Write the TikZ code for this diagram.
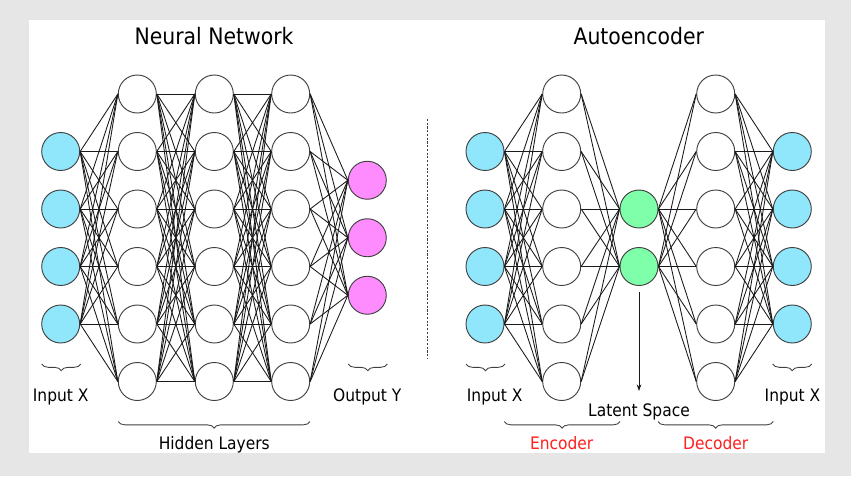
\documentclass[tikz,border=0pt]{standalone}
\usepackage{fontspec}
\setmainfont{DejaVu Sans Condensed}
\usetikzlibrary{decorations.pathreplacing,arrows.meta}
\definecolor{bggray}{HTML}{E6E6E6}
\definecolor{incolor}{HTML}{90E6FB}
\definecolor{outcolor}{HTML}{FF8CFF}
\definecolor{latcolor}{HTML}{80FFAA}
\definecolor{nodeborder}{HTML}{404040}
\definecolor{edgecolor}{HTML}{1A1A1A}
\definecolor{redlbl}{HTML}{FF2020}
\begin{document}
\begin{tikzpicture}[x=0.75pt,y=-0.75pt,
  neuron/.style={circle,draw=nodeborder,line width=0.7pt,minimum size=28.5pt,inner sep=0pt,fill=white},
  edge/.style={draw=edgecolor,line width=0.65pt},
  lbl/.style={font=\fontsize{12.9}{15}\selectfont,anchor=base,inner sep=0pt},
  ttl/.style={font=\fontsize{17}{20}\selectfont,anchor=base,inner sep=0pt},
  bracestyle/.style={draw=nodeborder,line width=0.65pt,decorate,decoration={brace,mirror,amplitude=5pt}}]
\fill[bggray] (0,0) rectangle (851,476);
\fill[white] (29,20) rectangle (825,453);
% ---------- left network ----------
\foreach \i in {1,...,4} \node[neuron,fill=incolor] (a\i) at (60.7,{94+57.5*\i}) {};
\foreach \j in {0,...,5} {
  \node[neuron] (b\j) at (137.3,{94+57.5*\j}) {};
  \node[neuron] (c\j) at (214.3,{94+57.5*\j}) {};
  \node[neuron] (d\j) at (290.7,{94+57.5*\j}) {};
}
\foreach \k in {1,...,3} \node[neuron,fill=outcolor] (e\k) at (367.3,{94+57.5*(\k+0.5)}) {};
\foreach \i in {1,...,4} \foreach \j in {0,...,5} \draw[edge] (a\i.east) -- (b\j.west);
\foreach \i in {0,...,5} \foreach \j in {0,...,5} {
  \draw[edge] (b\i.east) -- (c\j.west);
  \draw[edge] (c\i.east) -- (d\j.west);
}
\foreach \i in {0,...,5} \foreach \k in {1,...,3} \draw[edge] (d\i.east) -- (e\k.west);
% ---------- right network ----------
\foreach \i in {1,...,4} {
  \node[neuron,fill=incolor] (p\i) at (485,{94+57.5*\i}) {};
  \node[neuron,fill=incolor] (t\i) at (792.3,{94+57.5*\i}) {};
}
\foreach \j in {0,...,5} {
  \node[neuron] (q\j) at (561.7,{94+57.5*\j}) {};
  \node[neuron] (s\j) at (715.7,{94+57.5*\j}) {};
}
\foreach \m in {2,3} \node[neuron,fill=latcolor] (r\m) at (639,{94+57.5*\m}) {};
\foreach \i in {1,...,4} \foreach \j in {0,...,5} {
  \draw[edge] (p\i.east) -- (q\j.west);
  \draw[edge] (s\j.east) -- (t\i.west);
}
\foreach \j in {0,...,5} \foreach \m in {2,3} {
  \draw[edge] (q\j.east) -- (r\m.west);
  \draw[edge] (r\m.east) -- (s\j.west);
}
% ---------- separator ----------
\coordinate (sep1) at (427.7,119);
\coordinate (sep2) at (427.7,358);
\draw[nodeborder,line width=0.7pt,dash pattern=on 1.6pt off 1.2pt] (sep1) -- (sep2);
% ---------- latent arrow ----------
\coordinate (latend) at (639,391);
\draw[edge,-{Stealth[length=5pt,width=3.5pt]}] ([yshift=-4.5pt]r3.south) -- (latend);
% ---------- braces ----------
\draw[bracestyle] (41.7,364) -- (80.7,364);
\draw[bracestyle] (348.3,364) -- (387.3,364);
\draw[bracestyle] (118.3,421.5) -- (310,421.5);
\draw[bracestyle] (466,364) -- (505,364);
\draw[bracestyle] (772.7,364) -- (811.7,364);
\draw[bracestyle] (504.3,421.5) -- (620,421.5);
\draw[bracestyle] (658,421.5) -- (773.3,421.5);
% ---------- texts ----------
\node[ttl] (t1) at (214,44) {Neural Network};
\node[ttl] (t2) at (638.8,44) {Autoencoder};
\node[lbl] (l1) at (60.7,401.7) {Input X};
\node[lbl] (l2) at (367.3,401.7) {Output Y};
\node[lbl] (l3) at (214.3,449) {Hidden Layers};
\node[lbl] (l4) at (494.7,401.7) {Input X};
\node[lbl] (l5) at (792.5,401.7) {Input X};
\node[lbl] (l6) at (639,416) {Latent Space};
\node[lbl,text=redlbl] (l7) at (561.7,449) {Encoder};
\node[lbl,text=redlbl] (l8) at (715.7,449) {Decoder};
\end{tikzpicture}
\end{document}
